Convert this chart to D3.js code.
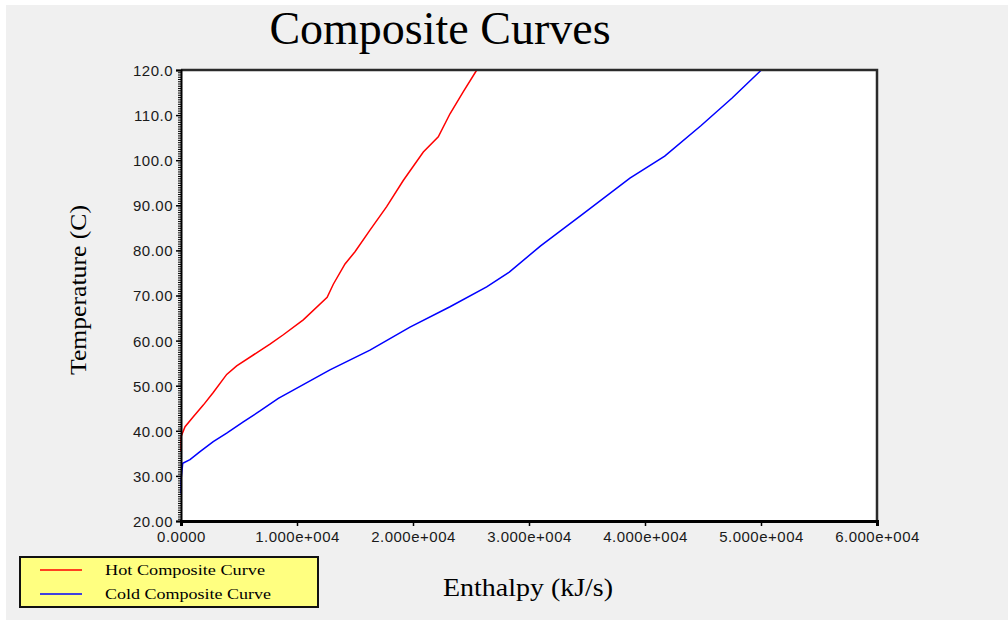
<!DOCTYPE html>
<html>
<head>
    <title>Composite Curves</title>
    <script src="https://d3js.org/d3.v7.min.js"></script>
    <style>
        body {
            margin: 0;
            overflow: hidden;
            background: #ffffff;
        }
        .tick-label {
            font-family: "Liberation Sans", Arial, sans-serif;
            font-size: 15px;
            letter-spacing: 0.5px;
            fill: #1a1a1a;
        }
        .serif {
            font-family: "Liberation Serif", "Times New Roman", serif;
            fill: #000;
        }
    </style>
</head>
<body>
    <div id="viz"></div>
    <script>
        // Hot composite curve: [enthalpy kJ/s, temperature C]
        const hotCurve = [
            [0, 35.4], [0, 38.7], [350, 40.9], [1060, 43.1], [1920, 45.7],
            [2780, 48.5], [3940, 52.5], [4800, 54.4], [6650, 57.5], [7670, 59.2],
            [8820, 61.3], [10540, 64.6], [12600, 69.6], [13130, 72.5], [14140, 77.0],
            [15000, 79.7], [16290, 84.5], [17730, 89.7], [19160, 95.5], [20890, 101.8],
            [22180, 105.2], [23190, 110.3], [24340, 115.2], [25500, 120.0]
        ];
        // Cold composite curve
        const coldCurve = [
            [0, 26.1], [0, 29.0], [150, 32.8], [775, 33.6], [1640, 35.4],
            [2780, 37.6], [3940, 39.5], [5370, 42.0], [6810, 44.4], [8390, 47.2],
            [9680, 49.0], [12840, 53.5], [16290, 57.9], [19740, 63.0], [23190, 67.5],
            [26350, 71.9], [28300, 75.2], [31000, 81.0], [34600, 88.0], [38700, 96.0],
            [41700, 100.9], [44840, 107.7], [47510, 113.8], [50030, 120.0]
        ];
        const xTicks = [0, 10000, 20000, 30000, 40000, 50000, 60000];
        const xTickLabels = ['0.0000', '1.000e+004', '2.000e+004', '3.000e+004', '4.000e+004', '5.000e+004', '6.000e+004'];
        const yTicks = [20, 30, 40, 50, 60, 70, 80, 90, 100, 110, 120];
        const yTickLabels = ['20.00', '30.00', '40.00', '50.00', '60.00', '70.00', '80.00', '90.00', '100.0', '110.0', '120.0'];
        const seriesNames = ['Hot Composite Curve', 'Cold Composite Curve'];
        const seriesColors = ['#ff0000', '#0000ff'];

        const width = 1008, height = 620;
        const plot = { left: 181, right: 877, top: 70, bottom: 521 };

        const svg = d3.select('#viz')
            .append('svg')
            .attr('width', width)
            .attr('height', height);

        // gray panel with thin white margin
        svg.append('rect')
            .attr('x', 6).attr('y', 5)
            .attr('width', width - 6).attr('height', height - 5)
            .attr('fill', '#f0f0f0');

        const x = d3.scaleLinear().domain([0, 60000]).range([plot.left, plot.right]);
        const y = d3.scaleLinear().domain([20, 120]).range([plot.bottom, plot.top]);

        // plot background
        svg.append('rect')
            .attr('x', plot.left).attr('y', plot.top)
            .attr('width', plot.right - plot.left)
            .attr('height', plot.bottom - plot.top)
            .attr('fill', '#ffffff');

        // curves
        const line = d3.line().x(d => x(d[0])).y(d => y(d[1]));
        [hotCurve, coldCurve].forEach((data, i) => {
            svg.append('path')
                .datum(data)
                .attr('d', line)
                .attr('fill', 'none')
                .attr('stroke', seriesColors[i])
                .attr('stroke-width', 1.5);
        });

        // top and right frame
        svg.append('path')
            .attr('d', `M${plot.left},${plot.top}H${plot.right}V${plot.bottom}`)
            .attr('fill', 'none')
            .attr('stroke', '#2a2a2a')
            .attr('stroke-width', 2.5);

        // y axis: minor ticks every 0.5
        const yAxisMinor = d3.axisLeft(y)
            .tickValues(d3.range(20, 120.01, 0.5))
            .tickSize(3)
            .tickFormat('');
        const gyMinor = svg.append('g')
            .attr('transform', `translate(${plot.left},0)`)
            .call(yAxisMinor);
        gyMinor.select('.domain').remove();
        gyMinor.selectAll('line').attr('stroke', '#000').attr('stroke-width', 1);

        const yAxis = d3.axisLeft(y)
            .tickValues(yTicks)
            .tickSize(5)
            .tickPadding(3)
            .tickFormat((d, i) => yTickLabels[i]);
        const gy = svg.append('g')
            .attr('transform', `translate(${plot.left},0)`)
            .call(yAxis);
        gy.select('.domain').attr('stroke', '#000').attr('stroke-width', 2);
        gy.selectAll('line').attr('stroke', '#000').attr('stroke-width', 1.5);
        gy.selectAll('text').attr('class', 'tick-label').attr('dy', '0.36em');

        // x axis
        const xAxis = d3.axisBottom(x)
            .tickValues(xTicks)
            .tickSize(5)
            .tickPadding(5)
            .tickFormat((d, i) => xTickLabels[i]);
        const gx = svg.append('g')
            .attr('transform', `translate(0,${plot.bottom})`)
            .call(xAxis);
        gx.select('.domain').attr('stroke', '#000').attr('stroke-width', 3);
        gx.selectAll('line').attr('stroke', '#000').attr('stroke-width', 1.5);
        gx.selectAll('text').attr('class', 'tick-label');

        // title and axis labels
        svg.append('text')
            .attr('class', 'serif')
            .attr('x', 440).attr('y', 44)
            .attr('text-anchor', 'middle')
            .attr('font-size', 46)
            .text('Composite Curves');

        svg.append('text')
            .attr('class', 'serif')
            .attr('x', 528).attr('y', 596)
            .attr('text-anchor', 'middle')
            .attr('font-size', 25)
            .attr('textLength', 170)
            .attr('lengthAdjust', 'spacingAndGlyphs')
            .text('Enthalpy (kJ/s)');

        svg.append('text')
            .attr('class', 'serif')
            .attr('transform', 'translate(86,290) rotate(-90)')
            .attr('text-anchor', 'middle')
            .attr('font-size', 24)
            .attr('textLength', 170)
            .attr('lengthAdjust', 'spacingAndGlyphs')
            .text('Temperature (C)');

        // legend
        const legend = svg.append('g');
        legend.append('rect')
            .attr('x', 20).attr('y', 557)
            .attr('width', 298).attr('height', 50)
            .attr('fill', '#ffff80')
            .attr('stroke', '#111')
            .attr('stroke-width', 2);
        const legendTextLen = [160, 166];
        seriesNames.forEach((name, i) => {
            const ly = 570 + i * 24;
            legend.append('line')
                .attr('x1', 40).attr('x2', 82)
                .attr('y1', ly).attr('y2', ly)
                .attr('stroke', seriesColors[i])
                .attr('stroke-width', 1.5);
            legend.append('text')
                .attr('class', 'serif')
                .attr('x', 105).attr('y', ly + 5)
                .attr('font-size', 15)
                .attr('textLength', legendTextLen[i])
                .attr('lengthAdjust', 'spacingAndGlyphs')
                .text(name);
        });
    </script>
</body>
</html>
